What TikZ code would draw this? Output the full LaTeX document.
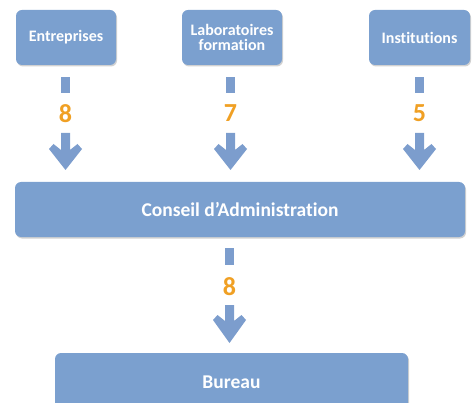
\documentclass[tikz,border=0pt]{standalone}
\usepackage{fontspec}
\setmainfont{Carlito}[Ligatures={NoCommon}]
\definecolor{boxblue}{HTML}{7BA0CF}
\definecolor{arrowblue}{HTML}{7C9DCD}
\definecolor{numorange}{HTML}{F0A024}
\usetikzlibrary{shadows}
\tikzset{
  topbox/.style={draw=none, fill=boxblue, rounded corners=6pt, minimum width=100pt, minimum height=55pt,
    text=white, font=\fontsize{16}{16.5}\selectfont\bfseries, align=center, inner sep=0pt,
    drop shadow={shadow xshift=1pt, shadow yshift=-1.5pt, opacity=0.3, fill=black!60}},
  widebox/.style={topbox, font=\fontsize{19.5}{20}\selectfont\bfseries},
  numlabel/.style={text=numorange, font=\fontsize{26}{26}\selectfont\bfseries, inner sep=0pt},
}
\begin{document}
\begin{tikzpicture}[x=1pt,y=-1pt]
\useasboundingbox (0,0) rectangle (473,403);
\clip (0,0) rectangle (473,403);
% boxes
\node[topbox] (ent) at (66,37.5) {Entreprises};
\node[topbox] (lab) at (232,37.5) {Laboratoires\\[-1pt]formation};
\node[topbox, minimum width=101pt] (ins) at (419.5,37.5) {Institutions};
\node[widebox, minimum width=450pt] (ca) at (240,209.5) {Conseil d’Administration};
\node[widebox, minimum width=353pt, minimum height=70pt] (bur) at (231.5,388) {};
\node[text=white, font=\fontsize{19.5}{20}\selectfont\bfseries] (burt) at (231.5,382) {Bureau};
% numbers
\node[numlabel] (n1) at (65.5,113.5) {8};
\node[numlabel] (n2) at (230.5,113.5) {7};
\node[numlabel] (n3) at (419.5,113.5) {5};
\node[numlabel] (n4) at (229.5,287) {8};
% stubs and arrows
\foreach \n/\a/\b/\c/\d/\e in {n1/77/93/133/145/170, n2/77/93/133/145/170, n3/77/93/133/145/170, n4/248/265/305/316/343}{
  \path (\n) coordinate (c\n);
  \fill[arrowblue] ([xshift=-4.5pt]c\n |- 0,\a) rectangle ([xshift=4.5pt]c\n |- 0,\b);
  \fill[arrowblue] ([xshift=-4.5pt]c\n |- 0,\c) -- ([xshift=4.5pt]c\n |- 0,\c)
     -- ([xshift=4.5pt]c\n |- 0,\d+5) -- ([xshift=12pt]c\n |- 0,\d-1) -- ([xshift=16.5pt]c\n |- 0,\d+4)
     -- (c\n |- 0,\e)
     -- ([xshift=-16.5pt]c\n |- 0,\d+4) -- ([xshift=-12pt]c\n |- 0,\d-1) -- ([xshift=-4.5pt]c\n |- 0,\d+5) -- cycle;
}
\end{tikzpicture}
\end{document}
